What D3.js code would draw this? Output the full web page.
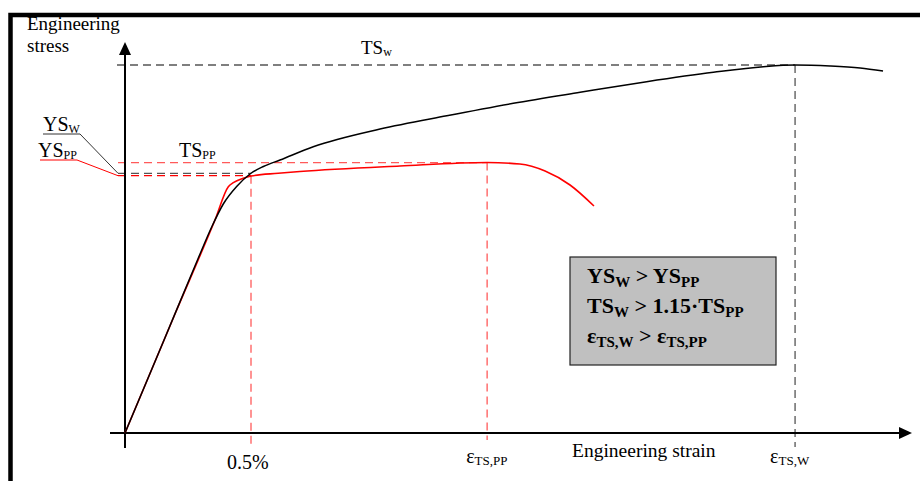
<!DOCTYPE html>
<html>
<head>
<meta charset="utf-8">
<script src="https://cdn.jsdelivr.net/npm/d3@7"></script>
<style>
  body { margin: 0; background: #fff; }
  svg text { font-family: "Liberation Serif", "Times New Roman", "DejaVu Serif", serif; }
</style>
</head>
<body>
<svg></svg>
<script>
// strain in %, stress in arbitrary units
var weldCurve = [
  [0, 0], [0.15, 90], [0.291, 175], [0.344, 206], [0.39, 229], [0.443, 246.5],
  [0.496, 259], [0.549, 266.5], [0.615, 273], [0.747, 286.3], [1.012, 304], [1.277, 317.3],
  [1.541, 329.7], [1.806, 340.7], [2.07, 351.3], [2.335, 360.7], [2.533, 366.3], [2.659, 368],
  [2.798, 367], [2.917, 365], [3.008, 362]
];
var ppCurve = [
  [0, 0], [0.2, 120], [0.357, 213], [0.41, 246.3], [0.43, 250.3], [0.469, 254.7],
  [0.5, 257], [0.608, 259.7], [0.694, 261.5], [1.091, 267], [1.437, 270.5], [1.567, 269],
  [1.667, 262], [1.766, 248], [1.861, 227]
];

var strainMarks = [0.5, 1.437, 2.659];
var strainLabels = [["0.5%", ""], ["\u03b5", "TS,PP"], ["\u03b5", "TS,W"]];

var ysW = 259.7, ysPP = 257.3, tsPP = 270.4, tsW = 368;

var width = { svg: 920 };
var height = { svg: 481 };

var svg = d3.select("svg").attr("width", width.svg).attr("height", height.svg);

var x = d3.scaleLinear().domain([0, 3.123]).range([125, 912]);
var y = d3.scaleLinear().domain([0, 391]).range([433, 42]);

var red = "#ff0000", lightRed = "#ff5a5a", gray = "#555";

// frame
svg.append("path")
  .attr("d", "M10.5,481 L10.5,15 L920,15")
  .attr("fill", "none")
  .attr("stroke", "#000")
  .attr("stroke-width", 4.5);

function dashed(x1, y1, x2, y2, color) {
  svg.append("line")
    .attr("x1", x1).attr("y1", y1).attr("x2", x2).attr("y2", y2)
    .attr("stroke", color)
    .attr("stroke-width", 1.3)
    .attr("stroke-dasharray", "8,5");
}

// guide lines
dashed(x(0) - 8, y(tsW), x(2.659), y(tsW), gray);
dashed(x(2.659), y(tsW), x(2.659), 447, gray);
dashed(x(0) - 7, y(tsPP), x(1.437), y(tsPP), lightRed);
dashed(x(1.437), y(tsPP), x(1.437), 440, lightRed);
dashed(x(0) - 7, y(ysW), x(0.5), y(ysW), gray);
dashed(x(0) - 7, y(ysPP), x(0.5), y(ysPP), red);
dashed(x(0.5), y(ysPP), x(0.5), 446, lightRed);

// axes
svg.append("line")
  .attr("x1", x(0)).attr("y1", 448).attr("x2", x(0)).attr("y2", 52)
  .attr("stroke", "#000").attr("stroke-width", 2);
svg.append("line")
  .attr("x1", 110).attr("y1", y(0)).attr("x2", 902).attr("y2", y(0))
  .attr("stroke", "#000").attr("stroke-width", 2);
svg.append("path")
  .attr("d", `M${x(0)},${y(391)} L${x(0) - 6},${y(391) + 13} L${x(0) + 6},${y(391) + 13} Z`)
  .attr("fill", "#000");
svg.append("path")
  .attr("d", `M912,${y(0)} L899,${y(0) - 6} L899,${y(0) + 6} Z`)
  .attr("fill", "#000");

// curves
var line = d3.line()
  .x((d) => x(d[0]))
  .y((d) => y(d[1]))
  .curve(d3.curveMonotoneX);

svg.append("path")
  .attr("d", line(ppCurve))
  .attr("fill", "none")
  .attr("stroke", red)
  .attr("stroke-width", 1.6);

svg.append("path")
  .attr("d", line(weldCurve))
  .attr("fill", "none")
  .attr("stroke", "#000")
  .attr("stroke-width", 1.5);

// text with subscript
function subText(g, tx, ty, main, sub, size, subSize, color, weight) {
  var t = g.append("text")
    .attr("x", tx).attr("y", ty)
    .attr("fill", color || "#000")
    .attr("font-size", size)
    .attr("font-weight", weight || "normal");
  t.append("tspan").text(main);
  if (sub) {
    t.append("tspan").attr("font-size", subSize).attr("dy", 2).text(sub);
  }
  return t;
}

// y axis title
svg.append("text").attr("x", 27).attr("y", 30).attr("font-size", 19).text("Engineering");
svg.append("text").attr("x", 27).attr("y", 52).attr("font-size", 19).text("stress");

// YS labels with leaders
subText(svg, 43, 131, "YS", "W", 20, 12);
svg.append("path")
  .attr("d", `M43,134 L80,134 L${x(0) - 7},${y(ysW)}`)
  .attr("fill", "none").attr("stroke", "#333").attr("stroke-width", 1);
subText(svg, 38, 157, "YS", "PP", 20, 12);
svg.append("path")
  .attr("d", `M40,160 L77,160 L${x(0) - 7},${y(ysPP)}`)
  .attr("fill", "none").attr("stroke", red).attr("stroke-width", 1);

subText(svg, 179, 157, "TS", "PP", 20, 12);
subText(svg, 361, 54, "TS", "w", 19, 12);

// strain labels
var offsets = [-24, -21, -25];
strainMarks.forEach((m, i) => {
  subText(svg, x(m) + offsets[i], i == 0 ? 469 : 463, strainLabels[i][0], strainLabels[i][1], 20, 13);
});
svg.append("text").attr("x", 572).attr("y", 457).attr("font-size", 19.5).text("Engineering strain");

// summary box
var box = svg.append("g");
box.append("rect")
  .attr("x", 570).attr("y", 257).attr("width", 206).attr("height", 108)
  .attr("fill", "#c0c0c0").attr("stroke", "#222").attr("stroke-width", 1.2);

function boxLine(ty, parts, size, subSize) {
  var t = box.append("text").attr("x", 587).attr("y", ty).attr("font-weight", "bold").attr("font-size", size);
  parts.forEach((p) => {
    t.append("tspan")
      .attr("font-size", p[1] ? subSize : size)
      .attr("dy", p[1] ? 4 : (p[2] ? -4 : 0))
      .text(p[0]);
  });
}
boxLine(283, [["YS"], ["W", 1], [" > ", 0, 1], ["YS"], ["PP", 1]], 22, 15);
boxLine(313, [["TS"], ["W", 1], [" > 1.15\u00b7TS", 0, 1], ["PP", 1]], 22, 15);
boxLine(343, [["\u03b5"], ["TS,W", 1], [" > \u03b5", 0, 1], ["TS,PP", 1]], 22, 15);
</script>
</body>
</html>
